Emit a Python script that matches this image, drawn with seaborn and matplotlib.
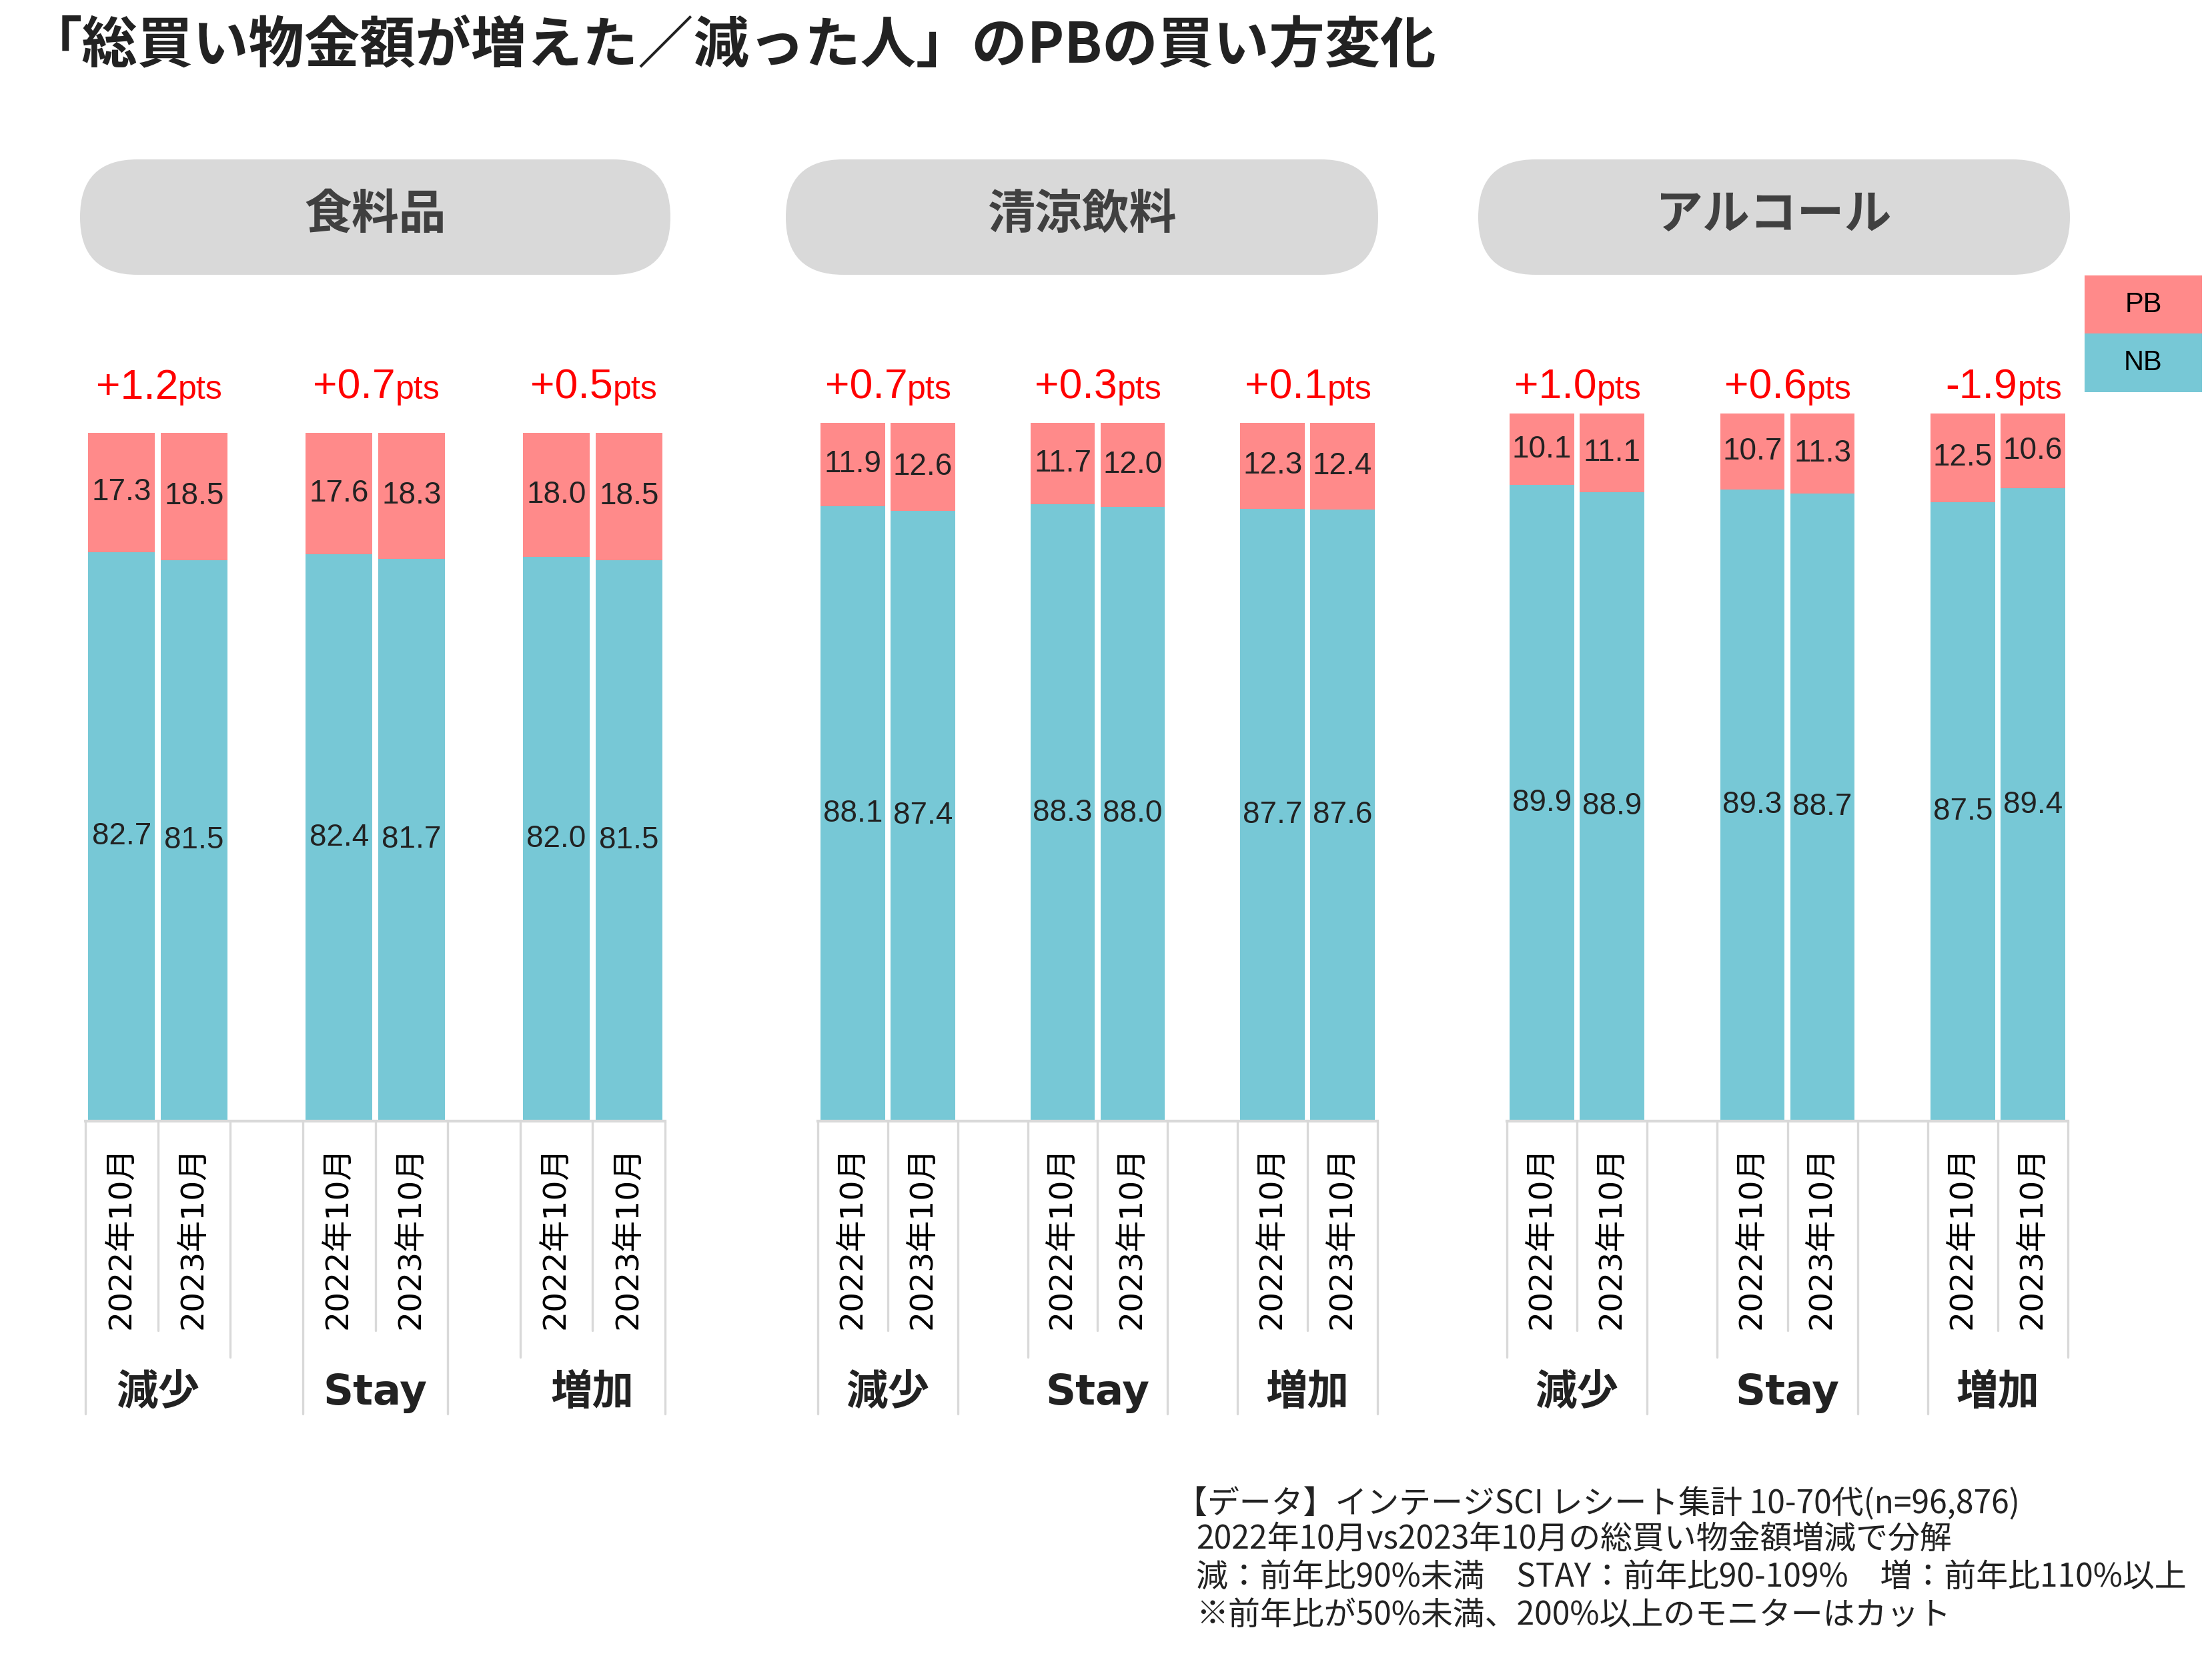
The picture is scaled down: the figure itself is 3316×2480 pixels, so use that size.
import matplotlib
matplotlib.use("Agg")
import matplotlib.pyplot as plt
import matplotlib.transforms as mtransforms
from matplotlib.patches import FancyBboxPatch, Rectangle
import numpy as np
import pandas as pd
import seaborn as sns

# ---- データ ----
categories = ["食料品", "清涼飲料", "アルコール"]
groups = ["減少", "Stay", "増加"]
months = ["2022年10月", "2023年10月"]

food_pb = [17.3, 18.5, 17.6, 18.3, 18.0, 18.5]
food_nb = [82.7, 81.5, 82.4, 81.7, 82.0, 81.5]
drink_pb = [11.9, 12.6, 11.7, 12.0, 12.3, 12.4]
drink_nb = [88.1, 87.4, 88.3, 88.0, 87.7, 87.6]
alc_pb = [10.1, 11.1, 10.7, 11.3, 12.5, 10.6]
alc_nb = [89.9, 88.9, 89.3, 88.7, 87.5, 89.4]

food_delta = ["+1.2", "+0.7", "+0.5"]
drink_delta = ["+0.7", "+0.3", "+0.1"]
alc_delta = ["+1.0", "+0.6", "-1.9"]

title = "「総買い物金額が増えた／減った人」のPBの買い方変化"
note_1 = "【データ】インテージSCI レシート集計 10-70代(n=96,876)"
note_rest = ("2022年10月vs2023年10月の総買い物金額増減で分解\n"
             "減：前年比90%未満　STAY：前年比90-109%　増：前年比110%以上\n"
             "※前年比が50%未満、200%以上のモニターはカット")

PINK = "#FF8A8A"
CYAN = "#77C8D6"
GRAY = "#D9D9D9"

sns.set_theme(style="white")
plt.rcParams["font.family"] = ["Noto Sans CJK JP", "DejaVu Sans"]

W, H, DPI = 3316, 2480, 300
fig = plt.figure(figsize=(W / DPI, H / DPI), dpi=DPI)

# 全体をピクセル座標で扱う背景用axes
bg = fig.add_axes([0, 0, 1, 1])
bg.set_xlim(0, W)
bg.set_ylim(H, 0)
bg.axis("off")


def px_axes(x0, y0, x1, y1):
    return fig.add_axes([x0 / W, 1 - y1 / H, (x1 - x0) / W, (y1 - y0) / H])


# タイトル
bg.text(40, 94, title, fontsize=20, fontweight="bold", color="#222222",
        ha="left", va="baseline")

# パネル設定 (位置は画像から)
panels = [
    dict(name=categories[0], pb=food_pb, nb=food_nb, delta=food_delta,
         pill=(120, 1005), ax=(128, 649, 997, 1681), lines="FSMFSFMSF"),
    dict(name=categories[1], pb=drink_pb, nb=drink_nb, delta=drink_delta,
         pill=(1178, 2066), ax=(1226, 634, 2065, 1681), lines="FSFMSFFSF"),
    dict(name=categories[2], pb=alc_pb, nb=alc_nb, delta=alc_delta,
         pill=(2216, 3103), ax=(2259, 620, 3100, 1681), lines="MSFMSFFSM"),
]
line_end = {"S": 1995, "M": 2035, "F": 2120}
xpos = [0, 1, 3, 4, 6, 7]
group_center = [0.5, 3.5, 6.5]

for p in panels:
    # 見出し（角丸）
    x0, x1 = p["pill"]
    y0, y1 = 239, 412
    pill = FancyBboxPatch((x0, y0), x1 - x0, y1 - y0,
                          boxstyle="round,pad=0,rounding_size=%d" % ((y1 - y0) / 2),
                          facecolor=GRAY, edgecolor="none")
    bg.add_patch(pill)
    bg.text((x0 + x1) / 2, 322, p["name"], fontsize=17, fontweight="bold",
            color="#404040", ha="center", va="center")

    ax = px_axes(*p["ax"])
    df = pd.DataFrame({"x": xpos, "pb": p["pb"], "nb": p["nb"]})
    df["total"] = df["pb"] + df["nb"]

    # 積み上げ（PB上、NB下）
    sns.barplot(data=df, x="x", y="total", native_scale=True, color=PINK,
                saturation=1, width=0.92, errorbar=None, linewidth=0, ax=ax)
    sns.barplot(data=df, x="x", y="nb", native_scale=True, color=CYAN,
                saturation=1, width=0.92, errorbar=None, linewidth=0, ax=ax)

    for _, r in df.iterrows():
        ax.text(r["x"], r["nb"] / 2, "%.1f" % r["nb"], ha="center", va="center",
                fontsize=11, color="#222222", family="Liberation Sans")
        ax.text(r["x"], r["nb"] + r["pb"] / 2, "%.1f" % r["pb"], ha="center",
                va="center", fontsize=11, color="#222222", family="Liberation Sans")

    ax.set_xlim(-0.5, 7.5)
    ax.set_ylim(0, 100)
    ax.set_yticks([])
    ax.set_ylabel("")
    ax.set_xlabel("")
    ax.set_xticks(xpos)
    ax.set_xticklabels(months * 3, rotation=90, fontsize=11.3, color="black",
                       family=["DejaVu Sans", "Noto Sans CJK JP"])
    ax.tick_params(axis="x", length=0, pad=9)
    for s in ["top", "left", "right"]:
        ax.spines[s].set_visible(False)
    ax.spines["bottom"].set_color(GRAY)
    ax.spines["bottom"].set_linewidth(1.0)
    ax.patch.set_alpha(0)

    tr = mtransforms.blended_transform_factory(ax.transData, bg.transData)
    # カテゴリ軸の区切り線
    for i, k in enumerate(p["lines"]):
        ax.plot([i - 0.5, i - 0.5], [1681, line_end[k]], color=GRAY, lw=0.8,
                transform=tr, clip_on=False)

    for gc, g, d in zip(group_center, groups, p["delta"]):
        ax.text(gc, 2106, g, transform=tr, ha="center", va="baseline",
                fontsize=15, fontweight="bold", color="#222222",
                family=["DejaVu Sans", "Noto Sans CJK JP"])
        ax.text(gc + 0.28, 598, d, transform=tr, ha="right", va="baseline",
                fontsize=15, color="#FF0000", family="Liberation Sans")
        ax.text(gc + 0.28, 598, "pts", transform=tr, ha="left", va="baseline",
                fontsize=12, color="#FF0000", family="Liberation Sans")

# 凡例
bg.add_patch(Rectangle((3125, 413), 176, 87, facecolor=PINK, edgecolor="none"))
bg.add_patch(Rectangle((3125, 500), 176, 88, facecolor=CYAN, edgecolor="none"))
bg.text(3213, 457, "PB", ha="center", va="center", fontsize=10,
        family="Liberation Sans", color="black")
bg.text(3213, 544, "NB", ha="center", va="center", fontsize=10,
        family="Liberation Sans", color="black")

# 注記
bg.text(1762, 2255, note_1, ha="left", va="center", fontsize=11.5, color="#222222")
bg.text(1793, 2283, note_rest, ha="left", va="top", fontsize=11.5,
        color="#222222", linespacing=1.2)

fig.savefig("out.png", dpi=DPI)
